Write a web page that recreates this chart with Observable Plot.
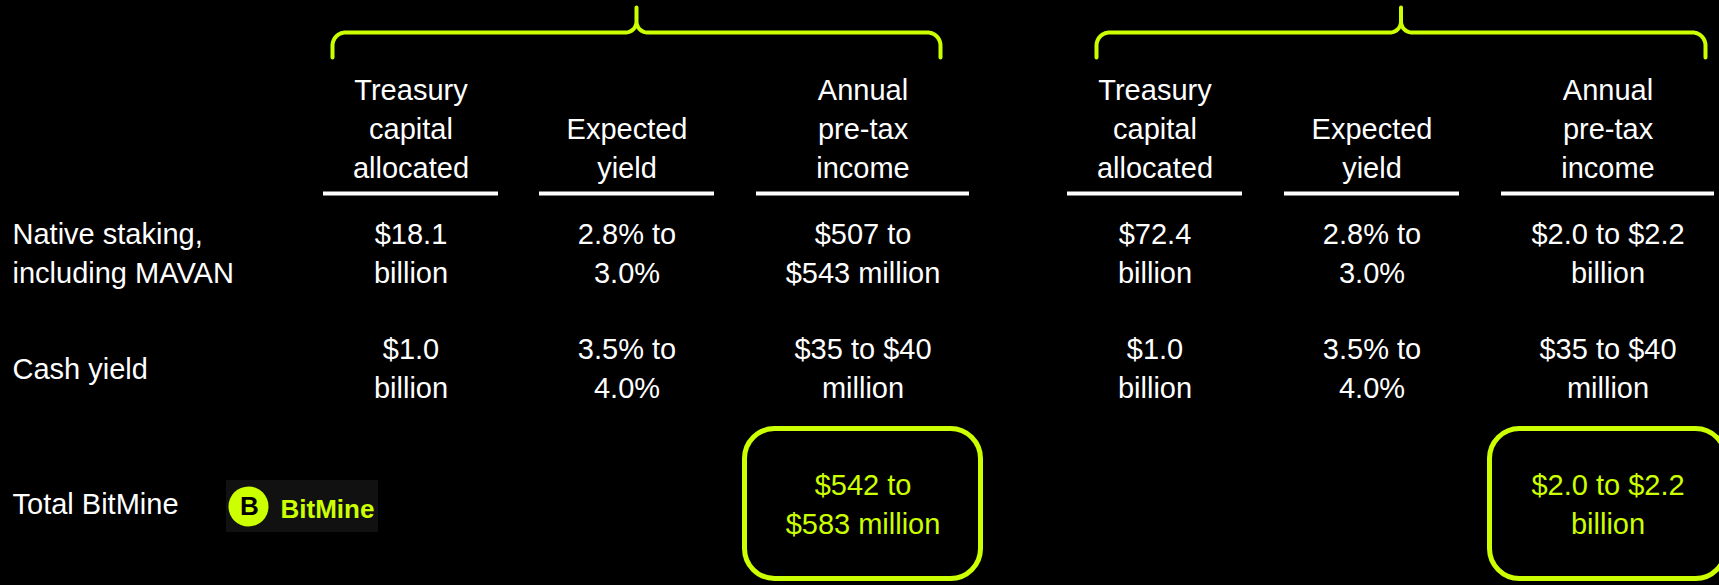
<!DOCTYPE html>
<html>
<head>
<meta charset="utf-8">
<script src="https://cdn.jsdelivr.net/npm/d3@7"></script>
<script src="https://cdn.jsdelivr.net/npm/@observablehq/plot@0.6"></script>
<style>
  html, body { margin: 0; padding: 0; background: #000; }
  #chart { width: 1719px; height: 585px; overflow: hidden; }
</style>
</head>
<body>
<div id="chart"></div>
<script>
// ---------- data ----------
const scenarios = ["current", "target"];
const columnHeaders = ["Treasury\ncapital\nallocated", "Expected\nyield", "Annual\npre-tax\nincome"];
const rowLabels = ["Native staking,\nincluding MAVAN", "Cash yield", "Total BitMine"];

const capitalCurrent = ["$18.1\nbillion", "$1.0\nbillion"];
const yieldCurrent = ["2.8% to\n3.0%", "3.5% to\n4.0%"];
const incomeCurrent = ["$507 to\n$543 million", "$35 to $40\nmillion"];
const totalCurrent = "$542 to\n$583 million";

const capitalTarget = ["$72.4\nbillion", "$1.0\nbillion"];
const yieldTarget = ["2.8% to\n3.0%", "3.5% to\n4.0%"];
const incomeTarget = ["$2.0 to $2.2\nbillion", "$35 to $40\nmillion"];
const totalTarget = "$2.0 to $2.2\nbillion";

const logoName = "BitMine";

// ---------- layout (positions/sizes/styles) ----------
const W = 1719, H = 585;
const colCenter = {current: [410.5, 626.5, 862.5], target: [1154.5, 1371.5, 1607.5]};
const colHalf = [87.5, 87.5, 106.5];
const rowBottom = [282, 397];      // baseline of last line for each row
const headerBottom = 177;
const underlineY = 193;
const braceSpan = {current: [332, 940], target: [1096, 1705]};
const YELLOW = "#ccff00";
const FONT = "Liberation Sans, Arial, sans-serif";
const FS = 29, LH = 39 / 29;

// ---------- tables built from data ----------
const headers = scenarios.flatMap(s => columnHeaders.map((h, i) => ({s, i, text: h})));
const values = [];
const seriesBy = {
  current: [capitalCurrent, yieldCurrent, incomeCurrent],
  target: [capitalTarget, yieldTarget, incomeTarget]
};
for (const s of scenarios) {
  seriesBy[s].forEach((col, i) => col.forEach((t, r) => values.push({s, i, r, text: t})));
}
const totals = [{s: "current", text: totalCurrent}, {s: "target", text: totalTarget}];

// brace geometry from span
function bracePoints(s) {
  const [x0, x1] = braceSpan[s];
  const xm = (x0 + x1) / 2, yTip = 7, yMid = 32, yEnd = 57, R = 13, r = 11;
  const pts = [];
  const arc = (cx, cy, rad, a0, a1) => {
    for (let k = 0; k <= 12; k++) {
      const a = a0 + (a1 - a0) * k / 12;
      pts.push({s, x: cx + rad * Math.cos(a), y: cy + rad * Math.sin(a)});
    }
  };
  pts.push({s, x: x0, y: yEnd});
  arc(x0 + R, yMid + R, R, Math.PI, 1.5 * Math.PI);
  arc(xm - r, yMid - r, r, 0.5 * Math.PI, 0);
  pts.push({s, x: xm, y: yTip});
  arc(xm + r, yMid - r, r, Math.PI, 0.5 * Math.PI);
  arc(x1 - R, yMid + R, R, 1.5 * Math.PI, 2 * Math.PI);
  pts.push({s, x: x1, y: yEnd});
  return pts;
}
const braces = scenarios.flatMap(bracePoints);

const plot = Plot.plot({
  width: W, height: H,
  margin: 0,
  x: {domain: [0, W], range: [0, W], axis: null},
  y: {domain: [0, H], range: [0, H], axis: null},
  style: {background: "#000", color: "#fff", fontFamily: FONT, overflow: "hidden"},
  marks: [
    // braces
    Plot.line(braces, {x: "x", y: "y", z: "s", stroke: YELLOW, strokeWidth: 4, curve: "linear"}),
    // column headers
    Plot.text(headers, {
      x: d => colCenter[d.s][d.i], y: () => headerBottom, text: "text",
      lineAnchor: "bottom", lineHeight: LH, fontSize: FS, fill: "#fff", fontFamily: FONT
    }),
    // header underlines
    Plot.ruleY(headers, {
      y: () => underlineY,
      x1: d => colCenter[d.s][d.i] - colHalf[d.i],
      x2: d => colCenter[d.s][d.i] + colHalf[d.i],
      stroke: "#fff", strokeWidth: 4
    }),
    // row labels
    Plot.text(rowLabels.slice(0, 2), {
      x: () => 12, y: (d, i) => rowBottom[i] - (d.includes("\n") ? 0 : 19),
      text: d => d, textAnchor: "start", lineAnchor: "bottom", lineHeight: LH,
      fontSize: FS, fill: "#fff", fontFamily: FONT
    }),
    Plot.text([rowLabels[2]], {
      x: () => 12, y: () => 513, text: d => d, textAnchor: "start",
      lineAnchor: "bottom", fontSize: FS, fill: "#fff", fontFamily: FONT
    }),
    // cell values
    Plot.text(values, {
      x: d => colCenter[d.s][d.i], y: d => rowBottom[d.r], text: "text",
      lineAnchor: "bottom", lineHeight: LH, fontSize: FS, fill: "#fff", fontFamily: FONT
    }),
    // total boxes
    Plot.rect(totals, {
      x1: d => colCenter[d.s][2] - 118, x2: d => colCenter[d.s][2] + 118,
      y1: () => 428.5, y2: () => 578.5,
      rx: 30, fill: "none", stroke: YELLOW, strokeWidth: 5
    }),
    Plot.text(totals, {
      x: d => colCenter[d.s][2], y: () => 533, text: "text",
      lineAnchor: "bottom", lineHeight: LH, fontSize: FS, fill: YELLOW, fontFamily: FONT
    }),
    // logo
    Plot.rect([logoName], {x1: () => 226, x2: () => 378, y1: () => 480, y2: () => 532, fill: "#111"}),
    Plot.dot([logoName], {x: () => 248, y: () => 506, r: 20, fill: YELLOW, stroke: "none"}),
    Plot.text([logoName], {
      x: () => 249, y: () => 506, text: d => d[0], lineAnchor: "middle",
      fontSize: 26, fontWeight: "bold", fill: "#000", fontFamily: FONT
    }),
    Plot.text([logoName], {
      x: () => 280, y: () => 517, text: d => d, textAnchor: "start", lineAnchor: "bottom",
      fontSize: 26, fontWeight: "bold", fill: YELLOW, fontFamily: FONT
    })
  ]
});
document.getElementById("chart").appendChild(plot);
</script>
</body>
</html>
